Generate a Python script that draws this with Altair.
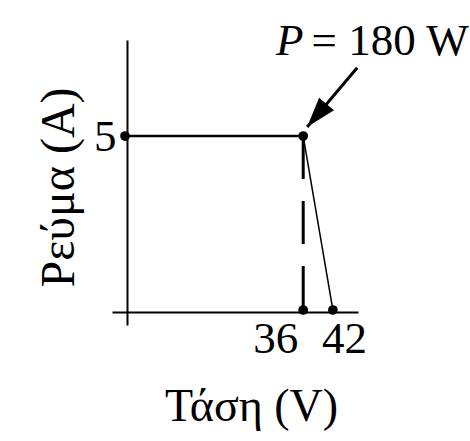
import math
import altair as alt
import pandas as pd

# Scale extents (volts, amperes)
v_domain = [-2.626, 47.07]
i_domain = [-0.431, 7.759]

# Tick values shown on the axes
v_ticks = [36, 42]
i_ticks = [5]

# Marked points of the I-V characteristic
pt_v = [0, 36, 36, 42]
pt_i = [5, 5, 0, 0]

# Constant-current segment and the drop to open circuit
flat_v = [0, 36]
flat_i = [5, 5]
drop_v = [36, 42]
drop_i = [5, 0]

# Dashed guide at the maximum-power voltage
guide_v = [36]
guide_top = [5]
guide_bottom = [0]

# Power annotation and its arrow
label_v = [37.7]
label_i = [7.33]
arrow_tail_v, arrow_tail_i = [46.9], [6.96]
arrow_tip_v, arrow_tip_i = [36.8], [5.26]

W, H = 246, 285
FONT = "Liberation Serif"

x_scale = alt.Scale(domain=v_domain, nice=False, zero=False)
y_scale = alt.Scale(domain=i_domain, nice=False, zero=False)

px_per_v = W / (v_domain[1] - v_domain[0])
px_per_i = H / (i_domain[1] - i_domain[0])
x_offset = -(0 - v_domain[0]) * px_per_v
y_offset = -(0 - i_domain[0]) * px_per_i

# screen-space direction of the arrow for rotating the head
dx = (arrow_tip_v[0] - arrow_tail_v[0]) * px_per_v
dy = -(arrow_tip_i[0] - arrow_tail_i[0]) * px_per_i
head_angle = (math.degrees(math.atan2(dx, -dy)) + 360) % 360

x_axis = alt.Axis(
    values=v_ticks, grid=False, ticks=False, tickSize=0,
    domain=True, domainColor="black", domainWidth=2,
    offset=x_offset, labelFont=FONT, labelFontSize=45, labelColor="black",
    labelBaseline="top", labelPadding=4, labelAngle=0,
    labelOffset=alt.expr("datum.value == 36 ? -28 : 11"),
    title="Τάση (V)", titleFont=FONT, titleFontSize=46, titleFontWeight="normal",
    titleColor="black", titleBaseline="alphabetic", titleAlign="center",
    titleX=139, titleY=108,
)
y_axis = alt.Axis(
    values=i_ticks, grid=False, ticks=False, tickSize=0,
    domain=True, domainColor="black", domainWidth=2,
    offset=y_offset, labelFont=FONT, labelFontSize=45, labelColor="black",
    labelBaseline="middle", labelPadding=11,
    title="Ρεύμα (A)", titleFont=FONT, titleFontSize=48, titleFontWeight="normal",
    titleColor="black", titleBaseline="alphabetic", titleAlign="center",
    titleAngle=270, titleX=-53, titleY=147,
)

flat = alt.Chart(pd.DataFrame({"v": flat_v, "i": flat_i})).mark_line(
    color="black", strokeWidth=2.5
).encode(
    x=alt.X("v:Q", scale=x_scale, axis=x_axis),
    y=alt.Y("i:Q", scale=y_scale, axis=y_axis),
)

drop = alt.Chart(pd.DataFrame({"v": drop_v, "i": drop_i})).mark_line(
    color="black", strokeWidth=1.5
).encode(x=alt.X("v:Q", scale=x_scale), y=alt.Y("i:Q", scale=y_scale))

guide = alt.Chart(
    pd.DataFrame({"v": guide_v, "top": guide_top, "bottom": guide_bottom})
).mark_rule(color="black", strokeWidth=3, strokeDash=[43, 22]).encode(
    x=alt.X("v:Q", scale=x_scale),
    y=alt.Y("top:Q", scale=y_scale),
    y2="bottom:Q",
)

points = alt.Chart(pd.DataFrame({"v": pt_v, "i": pt_i})).mark_circle(
    color="black", opacity=1, size=95
).encode(x=alt.X("v:Q", scale=x_scale), y=alt.Y("i:Q", scale=y_scale))

arrow_df = pd.DataFrame({
    "v": arrow_tail_v, "i": arrow_tail_i,
    "v2": arrow_tip_v, "i2": arrow_tip_i,
})
shaft = alt.Chart(arrow_df).mark_rule(color="black", strokeWidth=3).encode(
    x=alt.X("v:Q", scale=x_scale), y=alt.Y("i:Q", scale=y_scale),
    x2="v2:Q", y2="i2:Q",
)
head = alt.Chart(arrow_df).mark_point(
    shape="M0,0 L-0.65,2 L0.65,2 Z", filled=True, color="black",
    opacity=1, size=900, angle=head_angle,
).encode(x=alt.X("v2:Q", scale=x_scale), y=alt.Y("i2:Q", scale=y_scale))

label_df = pd.DataFrame({"v": label_v, "i": label_i})
label_p = alt.Chart(label_df).mark_text(
    text="P", font=FONT, fontSize=45, fontStyle="italic", color="black",
    align="right", baseline="alphabetic", dx=-8,
).encode(x=alt.X("v:Q", scale=x_scale), y=alt.Y("i:Q", scale=y_scale))
label_rest = alt.Chart(label_df).mark_text(
    text="= 180 W", font=FONT, fontSize=45, color="black",
    align="left", baseline="alphabetic", dx=0,
).encode(x=alt.X("v:Q", scale=x_scale), y=alt.Y("i:Q", scale=y_scale))

chart = alt.layer(
    flat, drop, guide, points, shaft, head, label_p, label_rest
).properties(
    width=W, height=H,
    background="white",
    padding={"left": 112, "top": 40, "right": 112, "bottom": 116},
    autosize=alt.AutoSizeParams(type="none"),
).configure_view(stroke=None)

chart.save("out.html", embed_options={"renderer": "svg", "actions": False})
